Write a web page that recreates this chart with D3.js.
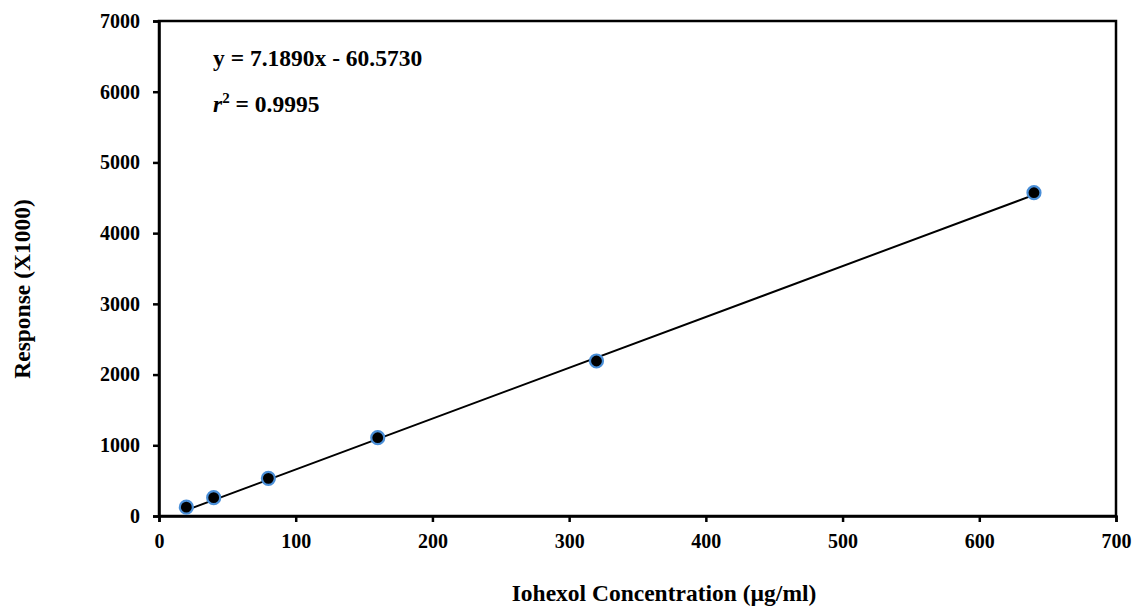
<!DOCTYPE html>
<html><head><meta charset="utf-8">
<script src="https://cdn.jsdelivr.net/npm/d3@7"></script>
<style>body{margin:0;background:#fff}svg{display:block}text{font-family:"Liberation Serif","Times New Roman",serif;font-weight:bold}</style>
</head><body>
<script>
const concentrations = [20, 40, 80, 160, 320, 640];
const responses = [125, 259, 533, 1107, 2192, 4572];
const xTicks = [0, 100, 200, 300, 400, 500, 600, 700];
const yTicks = [0, 1000, 2000, 3000, 4000, 5000, 6000, 7000];
const slope = 7.1890, intercept = -60.5730;
const equationText = "y = 7.1890x - 60.5730";
const r2Text = "0.9995";
const xTitle = "Iohexol Concentration (µg/ml)";
const yTitle = "Response (X1000)";

const W = 1145, H = 610;
const m = {left: 159, right: 1116, top: 21, bottom: 516};
const svg = d3.select("body").append("svg").attr("width", W).attr("height", H);
const x = d3.scaleLinear().domain([0, 700]).range([m.left, m.right]);
const y = d3.scaleLinear().domain([0, 7000]).range([m.bottom, m.top]);

// frame
svg.append("rect").attr("x", m.left).attr("y", m.top).attr("width", m.right - m.left).attr("height", m.bottom - m.top)
  .attr("fill", "none").attr("stroke", "#000").attr("stroke-width", 2.5);

const xa = svg.append("g").attr("transform", `translate(0,${m.bottom})`)
  .call(d3.axisBottom(x).tickValues(xTicks).tickSize(6).tickPadding(12).tickFormat(d3.format("d")));
const ya = svg.append("g").attr("transform", `translate(${m.left},0)`)
  .call(d3.axisLeft(y).tickValues(yTicks).tickSize(6).tickPadding(13).tickFormat(d3.format("d")));
[xa, ya].forEach(a => {
  a.select(".domain").attr("stroke", "#000").attr("stroke-width", 2.5);
  a.selectAll(".tick line").attr("stroke", "#000").attr("stroke-width", 2.5);
  a.selectAll(".tick text").attr("font-size", 20).attr("fill", "#000")
    .style("font-family", '"Liberation Serif","Times New Roman",serif').style("font-weight", "bold");
});

// regression line
const x0 = concentrations[0], x1 = concentrations[concentrations.length - 1];
svg.append("line").attr("x1", x(x0)).attr("y1", y(slope * x0 + intercept))
  .attr("x2", x(x1)).attr("y2", y(slope * x1 + intercept))
  .attr("stroke", "#000").attr("stroke-width", 2);

// points
svg.selectAll("circle.pt").data(concentrations).enter().append("circle").attr("class", "pt")
  .attr("cx", d => x(d)).attr("cy", (d, i) => y(responses[i])).attr("r", 6.5)
  .attr("fill", "#000").attr("stroke", "#4a8fd8").attr("stroke-width", 2.2);

// equation
svg.append("text").attr("x", 213).attr("y", 66).attr("font-size", 23.5).text(equationText);
const t2 = svg.append("text").attr("x", 213).attr("y", 112).attr("font-size", 23.5);
t2.append("tspan").attr("font-style", "italic").text("r");
t2.append("tspan").attr("font-size", 15).attr("dy", -9).text("2");
t2.append("tspan").attr("dy", 9).text(" = " + r2Text);

// axis titles
svg.append("text").attr("x", 664).attr("y", 601).attr("text-anchor", "middle").attr("font-size", 23.5).text(xTitle);
svg.append("text").attr("transform", "translate(30,289) rotate(-90)").attr("text-anchor", "middle").attr("font-size", 23.5).text(yTitle);
</script>
</body></html>
